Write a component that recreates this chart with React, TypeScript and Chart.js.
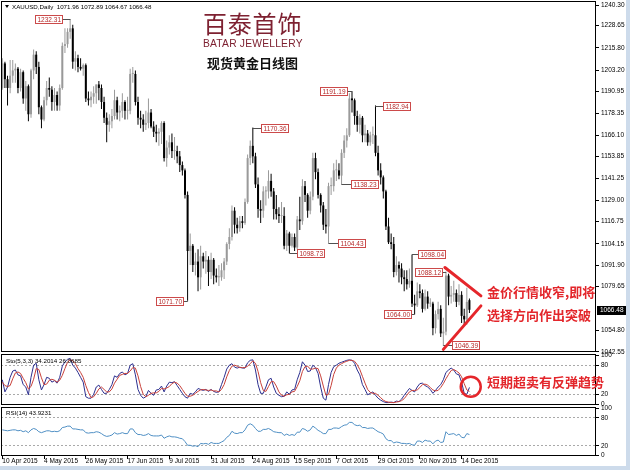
import React, { useEffect, useRef } from 'react';
import { Chart, registerables } from 'chart.js';

Chart.register(...registerables);

const FONT = '"Liberation Sans", Arial, sans-serif';
const CJK = '"Noto Sans CJK SC", "Noto Sans", sans-serif';

// ---------- data ----------
const OPEN = [
  1193, 1207, 1198, 1193, 1200, 1203, 1204, 1193, 1202, 1187,
  1194, 1178, 1203, 1212, 1205, 1182, 1175, 1186, 1193, 1192,
  1185, 1189, 1183, 1193, 1217, 1218, 1225, 1227, 1208, 1210,
  1205, 1204, 1206, 1187, 1186, 1188, 1190, 1195, 1193, 1185,
  1176, 1172, 1174, 1177, 1186, 1179, 1180, 1185, 1180, 1180,
  1201, 1201, 1185, 1176, 1175, 1172, 1173, 1179, 1171, 1168,
  1167, 1168, 1173, 1153, 1159, 1162, 1157, 1157, 1154, 1149,
  1146, 1132, 1100, 1103, 1092, 1094, 1085, 1097, 1094, 1095,
  1088, 1095, 1086, 1085, 1085, 1089, 1094, 1104, 1108, 1123,
  1115, 1113, 1117, 1116, 1128, 1153, 1160, 1154, 1138, 1124,
  1123, 1134, 1134, 1140, 1134, 1124, 1121, 1120, 1120, 1103,
  1110, 1103, 1108, 1102, 1118, 1117, 1137, 1132, 1123, 1131,
  1153, 1145, 1132, 1126, 1115, 1114, 1137, 1137, 1146, 1146,
  1143, 1156, 1163, 1166, 1187, 1186, 1177, 1172, 1176, 1166,
  1167, 1162, 1166, 1166, 1156, 1146, 1142, 1134, 1114, 1105,
  1104, 1088, 1092, 1090, 1085, 1084, 1081, 1083, 1070, 1069,
  1077, 1076, 1067, 1074, 1070, 1070, 1056, 1064, 1067, 1053,
  1054, 1086, 1074, 1075, 1076, 1071, 1075, 1063, 1061, 1071.96,
];
const HIGH = [
  1210, 1208, 1200, 1209, 1209, 1207, 1205, 1204, 1203, 1197,
  1195, 1204, 1215, 1214, 1208, 1183, 1188, 1197, 1199, 1194,
  1193, 1191, 1195, 1219, 1227, 1227, 1232.31, 1229, 1214, 1212,
  1210, 1207, 1207, 1191, 1191, 1194, 1195, 1197, 1195, 1188,
  1179, 1178, 1181, 1192, 1188, 1183, 1190, 1186, 1188, 1204,
  1205, 1203, 1188, 1180, 1178, 1180, 1187, 1181, 1174, 1172,
  1170, 1174, 1174, 1163, 1166, 1167, 1165, 1160, 1157, 1151,
  1147, 1134, 1110, 1104, 1099, 1101, 1103, 1099, 1100, 1097,
  1099, 1096, 1090, 1092, 1093, 1096, 1105, 1113, 1126, 1125,
  1119, 1120, 1120, 1130, 1155, 1163, 1170.36, 1156, 1142, 1129,
  1137, 1137, 1146, 1144, 1136, 1132, 1125, 1128, 1125, 1112,
  1111, 1110, 1110, 1120, 1131, 1141, 1140, 1133, 1134, 1156,
  1156, 1147, 1133, 1128, 1124, 1139, 1142, 1150, 1152, 1150,
  1158, 1166, 1170, 1190, 1191.19, 1187, 1180, 1178, 1177, 1172,
  1169, 1168, 1171, 1182.94, 1160, 1150, 1143, 1135, 1119, 1110,
  1108, 1097, 1094, 1093, 1089, 1089, 1090, 1098.04, 1075, 1082,
  1081, 1078, 1078, 1077, 1073, 1071, 1066, 1071, 1069, 1062,
  1088.12, 1087, 1080, 1083, 1078, 1081, 1077, 1067, 1079, 1072.89,
];
const LOW = [
  1192, 1193, 1183, 1190, 1196, 1196, 1190, 1191, 1184, 1180,
  1174, 1176, 1198, 1201, 1178, 1170, 1174, 1183, 1188, 1180,
  1180, 1180, 1180, 1192, 1213, 1216, 1221, 1204, 1203, 1202,
  1203, 1200, 1185, 1183, 1182, 1184, 1184, 1186, 1181, 1173,
  1162, 1168, 1170, 1175, 1175, 1174, 1176, 1175, 1175, 1178,
  1196, 1183, 1172, 1170, 1168, 1169, 1170, 1170, 1165, 1162,
  1160, 1161, 1151, 1148, 1155, 1153, 1152, 1150, 1145, 1143,
  1130, 1071.7, 1092, 1088, 1086, 1077, 1078, 1090, 1087, 1080,
  1084, 1081, 1082, 1080, 1083, 1084, 1092, 1101, 1106, 1110,
  1110, 1111, 1113, 1115, 1127, 1149, 1150, 1136, 1119, 1116,
  1119, 1126, 1130, 1131, 1118, 1118, 1116, 1116, 1101, 1100,
  1098.73, 1102, 1100, 1101, 1112, 1115, 1128, 1119, 1121, 1129,
  1141, 1130, 1122, 1112, 1110, 1104.43, 1132, 1134, 1140, 1141,
  1138.23, 1153, 1159, 1165, 1179, 1172, 1168, 1167, 1162, 1162,
  1160, 1160, 1161, 1154, 1143, 1138, 1130, 1112, 1104, 1101,
  1085, 1086, 1082, 1081, 1077, 1078, 1079, 1068, 1064.0, 1068,
  1073, 1065, 1066, 1067, 1068, 1052, 1053, 1061, 1051, 1046.39,
  1052, 1069, 1070, 1071, 1068, 1069, 1059, 1058, 1058, 1064.67,
];
const CLOSE = [
  1207, 1198, 1193, 1200, 1203, 1204, 1193, 1202, 1187, 1194,
  1178, 1203, 1212, 1205, 1182, 1175, 1186, 1193, 1192, 1185,
  1189, 1183, 1193, 1217, 1218, 1225, 1227, 1208, 1210, 1205,
  1204, 1206, 1187, 1186, 1188, 1190, 1195, 1193, 1185, 1176,
  1172, 1174, 1177, 1186, 1179, 1180, 1185, 1180, 1180, 1201,
  1201, 1185, 1176, 1175, 1172, 1173, 1179, 1171, 1168, 1167,
  1168, 1173, 1153, 1159, 1162, 1157, 1157, 1154, 1149, 1146,
  1132, 1100, 1103, 1092, 1094, 1085, 1097, 1094, 1095, 1088,
  1095, 1086, 1085, 1085, 1089, 1094, 1104, 1108, 1123, 1115,
  1113, 1117, 1116, 1128, 1153, 1160, 1154, 1138, 1124, 1123,
  1134, 1134, 1140, 1134, 1124, 1121, 1120, 1120, 1103, 1110,
  1103, 1108, 1102, 1118, 1117, 1137, 1132, 1123, 1131, 1153,
  1145, 1132, 1126, 1115, 1114, 1137, 1137, 1146, 1146, 1143,
  1156, 1163, 1166, 1187, 1186, 1177, 1172, 1176, 1166, 1167,
  1162, 1166, 1166, 1156, 1146, 1142, 1134, 1114, 1105, 1104,
  1088, 1092, 1090, 1085, 1084, 1081, 1083, 1070, 1069, 1077,
  1076, 1067, 1074, 1070, 1070, 1056, 1064, 1067, 1053, 1054,
  1086, 1074, 1075, 1076, 1071, 1075, 1063, 1061, 1071, 1066.48,
];
const STO_K = [
  50, 25, 35, 55, 68, 70, 60, 58, 40, 35,
  19, 55, 80, 84, 50, 29, 40, 55, 53, 45,
  48, 43, 55, 78, 87, 92, 94, 80, 74, 65,
  55, 45, 15, 12, 12, 20, 35, 39, 30, 22,
  22, 30, 40, 58, 55, 63, 66, 60, 63, 80,
  83, 60, 30, 18, 12, 15, 28, 22, 18, 29,
  30, 37, 25, 37, 45, 44, 46, 38, 30, 22,
  15, 12, 22, 20, 25, 32, 30, 28, 30, 26,
  30, 26, 24, 25, 40, 55, 72, 80, 83, 76,
  74, 76, 74, 74, 85, 90, 91, 70, 40, 22,
  22, 35, 50, 53, 35, 22, 18, 15, 16, 25,
  20, 29, 30, 50, 65, 87, 80, 67, 68, 80,
  75, 63, 35, 12, 8, 40, 65, 77, 80, 84,
  86, 88, 90, 91, 90, 84, 70, 60, 40, 30,
  19, 22, 25, 18, 12, 8, 5, 3, 3, 4,
  3, 6, 5, 10, 18, 25, 32, 28, 25, 35,
  42, 43, 38, 35, 30, 22, 28, 35, 40, 50,
  65, 70, 74, 70, 62, 60, 45, 22, 20, 34.2014,
];
const STO_D = [
  45, 38, 36, 38, 52, 64, 66, 63, 53, 44,
  31, 36, 51, 73, 71, 54, 40, 41, 49, 51,
  49, 45, 49, 59, 73, 86, 91, 89, 83, 73,
  65, 55, 38, 24, 13, 15, 22, 31, 35, 30,
  25, 25, 31, 43, 51, 59, 61, 63, 63, 68,
  75, 74, 58, 36, 20, 15, 18, 22, 23, 23,
  26, 32, 31, 33, 36, 42, 45, 43, 38, 30,
  22, 16, 16, 18, 22, 26, 29, 30, 29, 28,
  29, 27, 27, 25, 30, 40, 56, 69, 78, 80,
  78, 75, 75, 75, 78, 83, 89, 84, 67, 44,
  28, 26, 36, 46, 46, 37, 25, 18, 16, 19,
  20, 25, 26, 36, 48, 67, 77, 78, 72, 72,
  74, 73, 58, 37, 18, 20, 38, 61, 74, 80,
  83, 86, 88, 90, 90, 88, 81, 71, 57, 43,
  30, 24, 22, 22, 18, 13, 8, 5, 4, 3,
  3, 4, 5, 7, 11, 18, 25, 28, 28, 29,
  34, 40, 41, 39, 34, 29, 27, 28, 34, 42,
  52, 61, 69, 71, 68, 64, 56, 42, 29, 26.0685,
];
const RSI = [
  54, 53, 52, 53, 54, 54, 52, 53, 50, 52,
  48, 54, 57, 55, 50, 48, 50, 52, 52, 50,
  51, 50, 52, 59, 60, 62, 62, 56, 56, 55,
  54, 54, 48, 47, 48, 48, 50, 49, 46, 42,
  40, 41, 43, 48, 45, 46, 48, 46, 46, 56,
  56, 48, 44, 44, 42, 43, 46, 42, 41, 41,
  41, 43, 36, 39, 41, 39, 39, 38, 36, 35,
  29, 21, 21, 19, 20, 18, 25, 24, 25, 23,
  27, 25, 25, 25, 28, 31, 38, 42, 51, 47,
  46, 48, 48, 54, 64, 67, 64, 57, 51, 51,
  55, 55, 57, 54, 50, 49, 48, 48, 42, 45,
  42, 44, 42, 49, 49, 57, 55, 51, 54, 62,
  58, 53, 50, 46, 46, 55, 55, 58, 58, 57,
  61, 64, 65, 70, 70, 65, 63, 64, 59, 59,
  57, 58, 58, 54, 50, 48, 45, 35, 31, 31,
  26, 28, 27, 25, 25, 24, 25, 22, 21, 30,
  30, 27, 32, 30, 30, 24, 30, 32, 27, 28,
  50, 44, 45, 46, 42, 45, 38, 37, 46, 43.9231,
];

const DATE_TICKS = [
  '10 Apr 2015', '4 May 2015', '26 May 2015', '17 Jun 2015', '9 Jul 2015', '31 Jul 2015',
  '24 Aug 2015', '15 Sep 2015', '7 Oct 2015', '29 Oct 2015', '20 Nov 2015', '14 Dec 2015',
];
const DATE_TICK_INDEX = [0, 16, 32, 48, 64, 80, 96, 112, 128, 144, 160, 176];
const PRICE_TICKS = [
  1240.3, 1228.65, 1215.8, 1203.2, 1190.95, 1178.35, 1166.1, 1153.85, 1141.25,
  1129.0, 1116.75, 1104.15, 1091.9, 1079.65, 1054.8, 1042.55,
];
const OSC_TICKS = [0, 20, 80, 100];
const LAST_PRICE = 1066.48;
const TOTAL_SLOTS = 228;

// marked extremes: bar index + price
const MARK_INDEX = [26, 71, 96, 110, 125, 130, 134, 143, 158, 157, 170, 169];
const MARK_PRICE = [1232.31, 1071.7, 1170.36, 1098.73, 1104.43, 1138.23, 1191.19, 1182.94, 1064.0, 1098.04, 1088.12, 1046.39];
// layout of the mark boxes (side of the bar, gap in px)
const MARK_LAYOUT = [
  { side: 'left', gap: 8 }, { side: 'left', gap: 5 }, { side: 'right', gap: 8 },
  { side: 'right', gap: 8 }, { side: 'right', gap: 9 }, { side: 'right', gap: 9 },
  { side: 'left', gap: 5 }, { side: 'right', gap: 8 }, { side: 'left', gap: 4 },
  { side: 'right', gap: 6 }, { side: 'left', gap: 4 }, { side: 'right', gap: 9 },
];
// hand drawn triangle lines: [startIndex, startPrice, endIndex, endPrice]
const TREND_LINES = [
  [169.6, 1090.6, 183.4, 1074.4],
  [169.0, 1043.9, 183.4, 1068.7],
];
const CIRCLE_AT = { index: 179.5, value: 35.7 };

// ---------- helpers ----------
const UP = '#9a9a9a';
const DOWN = '#000000';

function buildLabels() {
  return Array.from({ length: TOTAL_SLOTS }, (_, i) => {
    const k = DATE_TICK_INDEX.indexOf(i);
    return k >= 0 ? DATE_TICKS[k] : '';
  });
}

const framePlugin = {
  id: 'frame',
  afterDraw(chart: any) {
    const { ctx, chartArea: a } = chart;
    ctx.save();
    ctx.strokeStyle = '#000';
    ctx.lineWidth = 1;
    const l = Math.round(a.left) + 0.5;
    const r = Math.round(a.right) - 0.5;
    const t = Math.round(a.top) + 0.5;
    const b = Math.round(a.bottom) - 0.5;
    ctx.strokeRect(l, t, r - l, b - t);
    ctx.restore();
  },
};

const markPlugin = {
  id: 'marks',
  afterDatasetsDraw(chart: any) {
    const { ctx } = chart;
    const x = chart.scales.x;
    const y = chart.scales.y;
    ctx.save();
    ctx.font = `6.5px ${FONT}`;
    ctx.textBaseline = 'middle';
    MARK_INDEX.forEach((idx, k) => {
      const price = MARK_PRICE[k];
      const lay = MARK_LAYOUT[k];
      const bx = x.getPixelForValue(idx);
      const py = Math.round(y.getPixelForValue(price)) + 0.5;
      const text = price.toFixed(2);
      const w = Math.round(ctx.measureText(text).width + 4);
      const h = 8;
      const left = Math.round(lay.side === 'left' ? bx - lay.gap - w : bx + lay.gap) + 0.5;
      const edge = lay.side === 'left' ? left + w : left;
      const hiY = y.getPixelForValue(HIGH[idx]);
      const loY = y.getPixelForValue(LOW[idx]);
      const target = Math.abs(py - hiY) < Math.abs(py - loY) ? hiY : loY;
      ctx.strokeStyle = '#505050';
      ctx.lineWidth = 1;
      ctx.beginPath();
      ctx.moveTo(edge, py);
      ctx.lineTo(bx, py);
      ctx.lineTo(bx, target);
      ctx.stroke();
      ctx.fillStyle = '#ffffff';
      ctx.fillRect(left, py - h / 2, w, h);
      ctx.strokeStyle = '#cc4a4a';
      ctx.strokeRect(left, py - h / 2, w, h);
      ctx.fillStyle = '#b52a2a';
      ctx.fillText(text, left + 2, py + 0.5);
    });
    ctx.restore();
  },
};

const trendPlugin = {
  id: 'trend',
  afterDatasetsDraw(chart: any) {
    const { ctx } = chart;
    const x = chart.scales.x;
    const y = chart.scales.y;
    ctx.save();
    ctx.strokeStyle = '#e5262b';
    ctx.lineWidth = 3;
    ctx.lineCap = 'round';
    TREND_LINES.forEach(([i0, p0, i1, p1]) => {
      ctx.beginPath();
      ctx.moveTo(x.getPixelForValue(i0), y.getPixelForValue(p0));
      ctx.lineTo(x.getPixelForValue(i1), y.getPixelForValue(p1));
      ctx.stroke();
    });
    ctx.restore();
  },
};

const lastPricePlugin = {
  id: 'lastPrice',
  afterDraw(chart: any) {
    const { ctx, chartArea } = chart;
    const y = chart.scales.y;
    const py = Math.round(y.getPixelForValue(LAST_PRICE));
    ctx.save();
    ctx.fillStyle = '#000';
    ctx.fillRect(Math.round(chartArea.right) + 1, py - 4, 29, 9);
    ctx.fillStyle = '#fff';
    ctx.font = `6.5px ${FONT}`;
    ctx.textBaseline = 'middle';
    ctx.fillText(LAST_PRICE.toFixed(2), Math.round(chartArea.right) + 4, py + 0.5);
    ctx.restore();
  },
};

const circlePlugin = {
  id: 'circle',
  afterDraw(chart: any) {
    const { ctx } = chart;
    const x = chart.scales.x;
    const y = chart.scales.y;
    ctx.save();
    ctx.strokeStyle = '#e5262b';
    ctx.lineWidth = 2.5;
    ctx.beginPath();
    ctx.arc(x.getPixelForValue(CIRCLE_AT.index), y.getPixelForValue(CIRCLE_AT.value), 10, 0, Math.PI * 2);
    ctx.stroke();
    ctx.restore();
  },
};

function rightAxis(min: number, max: number, ticks: number[], fmt: (v: number) => string, dashed: boolean) {
  return {
    position: 'right',
    min,
    max,
    afterBuildTicks: (s: any) => {
      s.ticks = ticks.map((v) => ({ value: v }));
    },
    afterFit: (s: any) => {
      s.width = 30;
      s.paddingTop = 0;
      s.paddingBottom = 0;
    },
    ticks: {
      autoSkip: false,
      color: '#000',
      padding: 2,
      font: { family: FONT, size: 6.5 },
      callback: (v: any) => fmt(Number(v)),
    },
    grid: {
      display: true,
      drawOnChartArea: dashed,
      drawTicks: true,
      tickLength: 3,
      color: (c: any) =>
        dashed ? (c.tick && (c.tick.value === 20 || c.tick.value === 80) ? '#a9a9a9' : 'rgba(0,0,0,0)') : '#000',
      tickColor: '#000',
      lineWidth: 1,
    },
    border: { display: false, dash: dashed ? [2, 2] : [] },
  };
}

export default function App() {
  const mainRef = useRef<HTMLCanvasElement>(null);
  const stoRef = useRef<HTMLCanvasElement>(null);
  const rsiRef = useRef<HTMLCanvasElement>(null);

  useEffect(() => {
    const labels = buildLabels();
    const hiddenX = {
      type: 'category',
      offset: true,
      display: false,
      grid: { display: false, offset: false },
      afterFit: (s: any) => {
        s.paddingLeft = 0;
        s.paddingRight = 0;
      },
    };
    const colors = OPEN.map((o, i) => (CLOSE[i] >= o ? UP : DOWN));

    const main = new Chart(mainRef.current as HTMLCanvasElement, {
      type: 'bar',
      data: {
        labels,
        datasets: [
          {
            data: LOW.map((l, i) => [l, HIGH[i]]),
            backgroundColor: colors,
            barThickness: 1,
            grouped: false,
            inflateAmount: 0,
            borderWidth: 0,
          } as any,
          {
            data: OPEN.map((o, i) => [o, CLOSE[i]]),
            backgroundColor: colors,
            barThickness: 2,
            grouped: false,
            inflateAmount: 0,
            borderWidth: 0,
            minBarLength: 1,
          } as any,
        ],
      },
      options: {
        animation: false,
        responsive: false,
        maintainAspectRatio: false,
        events: [],
        layout: { padding: { left: 1, top: 1, right: 0, bottom: 5 } },
        plugins: { legend: { display: false }, tooltip: { enabled: false } },
        scales: {
          x: hiddenX as any,
          y: rightAxis(1042.4, 1242.6, PRICE_TICKS, (v) => v.toFixed(2), false) as any,
        },
      },
      plugins: [markPlugin, trendPlugin, framePlugin, lastPricePlugin],
    });

    const lineDs = (data: number[], color: string) => ({
      data,
      borderColor: color,
      borderWidth: 1,
      pointRadius: 0,
      tension: 0,
      fill: false,
    });

    const sto = new Chart(stoRef.current as HTMLCanvasElement, {
      type: 'line',
      data: {
        labels,
        datasets: [lineDs(STO_D, '#c8403a'), lineDs(STO_K, '#2c2f8f')] as any,
      },
      options: {
        animation: false,
        responsive: false,
        maintainAspectRatio: false,
        events: [],
        layout: { padding: { left: 1, top: 4, right: 0, bottom: 3 } },
        plugins: { legend: { display: false }, tooltip: { enabled: false } },
        scales: {
          x: hiddenX as any,
          y: rightAxis(-2, 103, OSC_TICKS, (v) => String(v), true) as any,
        },
      },
      plugins: [framePlugin, circlePlugin],
    });

    const rsi = new Chart(rsiRef.current as HTMLCanvasElement, {
      type: 'line',
      data: {
        labels,
        datasets: [lineDs(RSI, '#4f8fc4')] as any,
      },
      options: {
        animation: false,
        responsive: false,
        maintainAspectRatio: false,
        events: [],
        layout: { padding: { left: 1, top: 5, right: 0, bottom: 0 } },
        plugins: { legend: { display: false }, tooltip: { enabled: false } },
        scales: {
          x: {
            type: 'category',
            offset: true,
            display: true,
            afterBuildTicks: (s: any) => {
              s.ticks = DATE_TICK_INDEX.map((v) => ({ value: v }));
            },
            afterFit: (s: any) => {
              s.height = 10;
              s.paddingLeft = 0;
              s.paddingRight = 0;
            },
            ticks: {
              autoSkip: false,
              maxRotation: 0,
              minRotation: 0,
              align: 'start',
              padding: -2,
              color: '#000',
              font: { family: FONT, size: 6.5 },
            },
            grid: {
              display: true,
              drawOnChartArea: false,
              drawTicks: true,
              tickLength: 3,
              offset: false,
              color: '#000',
              tickColor: '#000',
            },
            border: { display: false },
          } as any,
          y: rightAxis(-2, 103, OSC_TICKS, (v) => String(v), true) as any,
        },
      },
      plugins: [framePlugin],
    });

    return () => {
      main.destroy();
      sto.destroy();
      rsi.destroy();
    };
  }, []);

  const abs = (extra: any) => ({ position: 'absolute' as const, whiteSpace: 'nowrap' as const, margin: 0, ...extra });

  return (
    <div style={{ position: 'absolute', left: 0, top: 0, width: 630, height: 470, background: '#cddbeb', overflow: 'hidden' }}>
      <div style={abs({ left: 0, top: 0, width: 626, height: 466, background: '#ffffff' })} />
      <canvas ref={mainRef} width={626} height={357} style={abs({ left: 0, top: 0, width: 626, height: 357 })} />
      <canvas ref={stoRef} width={626} height={58} style={abs({ left: 0, top: 350, width: 626, height: 58 })} />
      <canvas ref={rsiRef} width={626} height={64} style={abs({ left: 0, top: 402, width: 626, height: 64 })} />

      {/* header */}
      <div style={abs({ left: 5, top: 5, width: 0, height: 0, borderLeft: '2.5px solid transparent', borderRight: '2.5px solid transparent', borderTop: '3px solid #000' })} />
      <div style={abs({ left: 12, top: 2.6, font: `6.2px/8px ${FONT}`, color: '#000' })}>
        XAUUSD,Daily&nbsp; 1071.96 1072.89 1064.67 1066.48
      </div>

      {/* logo */}
      <div style={abs({ left: 203, top: 9.6, font: `400 24px/26px ${CJK}`, color: '#7e2131', letterSpacing: '0.8px' })}>百泰首饰</div>
      <div style={abs({ left: 203, top: 37.6, font: `10.3px/12px ${FONT}`, color: '#7e2131', letterSpacing: '0.2px' })}>BATAR JEWELLERY</div>
      <div style={abs({ left: 207, top: 55.3, font: `bold 13px/16px ${CJK}`, color: '#111' })}>现货黄金日线图</div>

      {/* annotations */}
      <div style={abs({ left: 487, top: 283.8, font: `bold 13px/16px ${CJK}`, color: '#e3262b' })}>金价行情收窄,即将</div>
      <div style={abs({ left: 487, top: 307.3, font: `bold 13px/16px ${CJK}`, color: '#e3262b' })}>选择方向作出突破</div>
      <div style={abs({ left: 487, top: 373.8, font: `bold 13px/16px ${CJK}`, color: '#e3262b' })}>短期超卖有反弹趋势</div>

      {/* indicator captions */}
      <div style={abs({ left: 6, top: 356.5, font: `6.2px/8px ${FONT}`, color: '#000' })}>Sto(5,3,3) 34.2014 26.0685</div>
      <div style={abs({ left: 6, top: 408.5, font: `6.2px/8px ${FONT}`, color: '#000' })}>RSI(14) 43.9231</div>
    </div>
  );
}
